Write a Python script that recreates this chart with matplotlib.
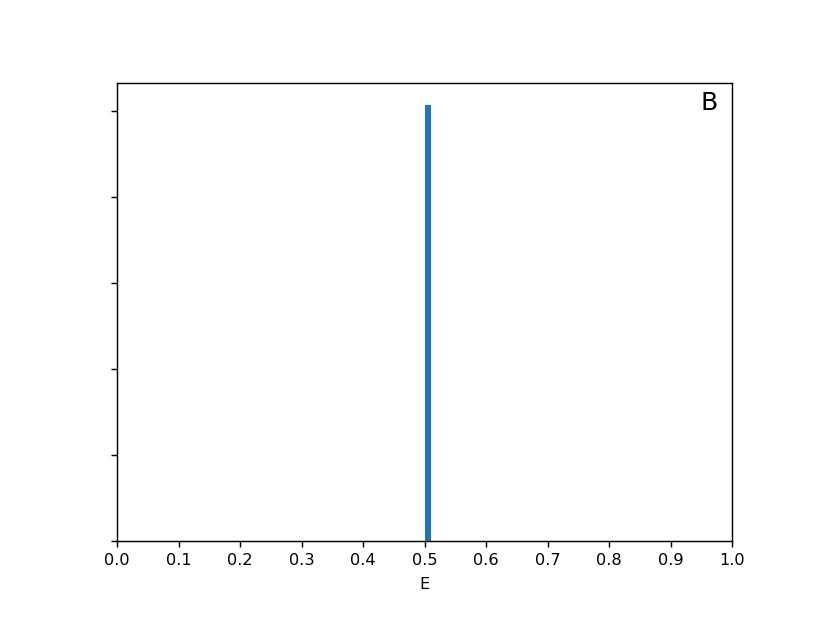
import numpy as np
import matplotlib
matplotlib.use("Agg")
import matplotlib.pyplot as plt

# histogram of E: one occupied bin
bin_left = [0.50]
bin_width = 0.01
bin_height = [1.014]

panel_label = "B"
x_ticks = [0.0, 0.1, 0.2, 0.3, 0.4, 0.5, 0.6, 0.7, 0.8, 0.9, 1.0]

dpi = 128.5
fig = plt.figure(figsize=(822 / dpi, 617 / dpi), dpi=dpi)
ax = fig.add_axes([117 / 822, 1 - 541 / 617, (732 - 117) / 822, (541 - 83) / 617])

ax.bar(bin_left, bin_height, width=bin_width, align="edge", color="#1f77b4")

ax.set_xlim(0, 1)
ax.set_xticks(x_ticks)
ax.tick_params(labelsize=9)
ax.set_xlabel("E", fontsize=9, labelpad=5)
ax.set_yticks([0.0, 0.2, 0.4, 0.6, 0.8, 1.0])
ax.set_yticklabels([])

ax.text(0.977, 0.983, panel_label, transform=ax.transAxes,
        ha="right", va="top", fontsize=14)

fig.savefig("out.png", dpi=dpi)
